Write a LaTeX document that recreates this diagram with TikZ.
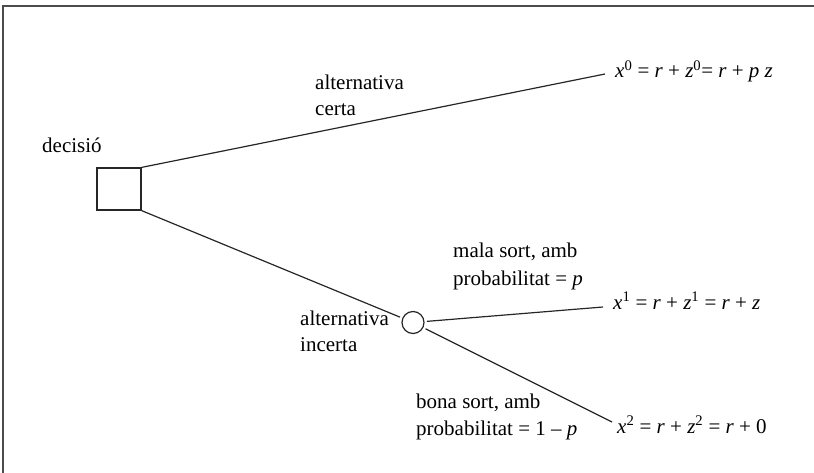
\documentclass[tikz,border=0pt]{standalone}
\usepackage{fontspec}
\setmainfont{Liberation Serif}
\newcommand{\mi}[1]{\textit{#1}}
\begin{document}
\begin{tikzpicture}[x=1pt,y=-1pt,
  lbl/.style={anchor=base west,inner sep=0pt,font=\fontsize{21}{28}\selectfont},
  ln/.style={line width=1.2pt,black!85},
  frame/.style={line width=1.6pt,black!70}]
\useasboundingbox (0,0) rectangle (814,473);
\draw[frame] (3,473) -- (3,6) -- (814,6);
\node[draw,ln,minimum width=44pt,minimum height=42pt,inner sep=0pt] (sq) at (119,189) {};
\node[draw,ln,circle,minimum size=22pt,inner sep=0pt,outer sep=3pt] (ci) at (413,322.5) {};
\coordinate (e0) at (605,74);
\coordinate (e1) at (603,307);
\coordinate (e2) at (612,422);
\draw[ln] (sq.north east) -- (e0);
\draw[ln] (sq.south east) -- (ci);
\draw[ln] (ci) -- (e1);
\draw[ln] (ci) -- (e2);
\node[lbl] (dec) at (42,153) {decisió};
\node[lbl] (ac1) at (315,90) {alternativa};
\node[lbl] (ac2) at (315,116) {certa};
\node[lbl] (ai1) at (300,325) {alternativa};
\node[lbl] (ai2) at (300,351) {incerta};
\node[lbl] (ms1) at (453,258) {mala sort, amb};
\node[lbl] (ms2) at (453,285) {probabilitat = \mi{p}};
\node[lbl] (bs1) at (416,408) {bona sort, amb};
\node[lbl] (bs2) at (416,435) {probabilitat = 1 – \mi{p}};
\node[lbl] (f0) at (615,78) {\mi{x}\textsuperscript{0} = \mi{r} + \mi{z}\textsuperscript{0}= \mi{r} + \mi{p} \mi{z}};
\node[lbl] (f1) at (613,309) {\mi{x}\textsuperscript{1} = \mi{r} + \mi{z}\textsuperscript{1} = \mi{r} + \mi{z}};
\node[lbl] (f2) at (617,433) {\mi{x}\textsuperscript{2} = \mi{r} + \mi{z}\textsuperscript{2} = \mi{r} + 0};
\end{tikzpicture}
\end{document}
